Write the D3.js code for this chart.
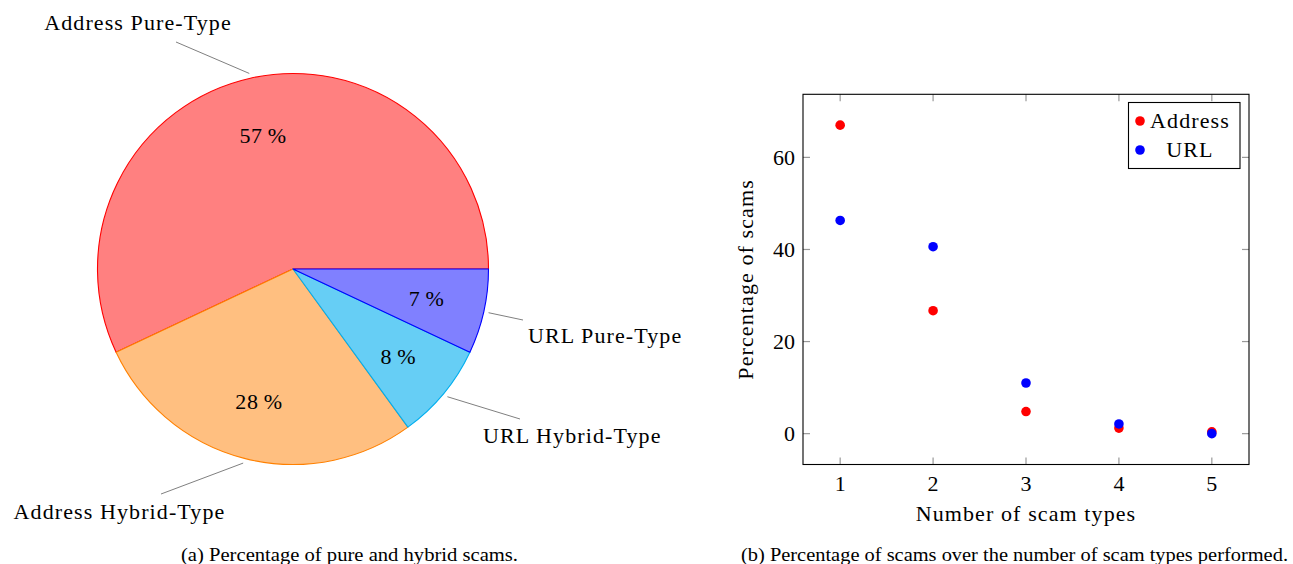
<!DOCTYPE html>
<html>
<head>
<meta charset="utf-8">
<script src="https://cdn.jsdelivr.net/npm/d3@7"></script>
<style>
  html, body { margin: 0; padding: 0; background: #fff; }
  svg { display: block; }
</style>
</head>
<body>
<svg id="chart" width="1293" height="564"></svg>
<script>
// ---------- data ----------
const pieLabels = ["Address Pure-Type", "Address Hybrid-Type", "URL Hybrid-Type", "URL Pure-Type"];
const pieValues = [57, 28, 8, 7];
const pieFills = ["#FF8080", "#FFBF80", "#66CEF5", "#8080FF"];
const pieStrokes = ["#FF0000", "#FF8000", "#00AEEF", "#0000FF"];

const scamTypes = [1, 2, 3, 4, 5];
const addressPct = [67.0, 26.7, 4.8, 1.2, 0.4];
const urlPct = [46.3, 40.6, 11.0, 2.1, 0.0];
const xTickValues = [1, 2, 3, 4, 5];
const yTickValues = [0, 20, 40, 60];
const seriesNames = ["Address", "URL"];
const seriesColors = ["#FF0000", "#0000FF"];

const captionA = "(a) Percentage of pure and hybrid scams.";
const captionB = "(b) Percentage of scams over the number of scam types performed.";

// ---------- layout ----------
const svg = d3.select("#chart");
const SERIF = "'Liberation Serif', serif";
const BASE_FS = 20;   // rendered size
const SCALE = 1.1;    // visual size = 22px
const LS = 1.0;       // letter spacing (unscaled)

function serifGroups(parent, data, cls, posFn, textFn, opts = {}) {
  const g = parent.selectAll("g." + cls)
    .data(data)
    .join("g")
    .attr("class", cls)
    .attr("transform", (d, i) => {
      const p = posFn(d, i);
      return `translate(${p[0]},${p[1]})` + (opts.rotate ? ` rotate(${opts.rotate})` : "") + ` scale(${SCALE})`;
    });
  g.append("text")
    .attr("font-family", SERIF)
    .attr("font-size", BASE_FS)
    .attr("fill", "#000")
    .attr("text-anchor", (d, i) => typeof opts.anchor === "function" ? opts.anchor(d, i) : (opts.anchor || "middle"))
    .attr("dy", opts.dy || 0)
    .attr("letter-spacing", opts.ls || 0)
    .text(textFn);
  return g;
}

// ===== Pie =====
const cx = 293, cy = 269, R = 195.5;
const pie = d3.pie().sort(null)
  .startAngle(Math.PI / 2)
  .endAngle(Math.PI / 2 - 2 * Math.PI);
const arcs = pie(pieValues);
const arc = d3.arc().innerRadius(0).outerRadius(R);

const gPie = svg.append("g").attr("transform", `translate(${cx},${cy})`);
gPie.selectAll("path.slice")
  .data(arcs)
  .join("path")
  .attr("class", "slice")
  .attr("d", arc)
  .attr("fill", (d, i) => pieFills[i])
  .attr("stroke", (d, i) => pieStrokes[i])
  .attr("stroke-width", 1.1)
  .attr("stroke-linejoin", "round");

const polar = (a, r) => [r * Math.sin(a), -r * Math.cos(a)];
const mid = d => (d.startAngle + d.endAngle) / 2;

// inner percentage labels
serifGroups(gPie, arcs, "pct", d => polar(mid(d), 0.7 * R), d => d.data + "\u2009%",
  { anchor: "middle", dy: "0.34em", ls: 0.6 });

// outer labels with pins (pin end and label anchor relative to pie centre)
const pinLayout = [
  { end: [-117, -227], tx: -155, ty: -239, anchor: "middle" },
  { end: [-132, 225], tx: -173.5, ty: 250, anchor: "middle" },
  { end: [227, 150], tx: 190, ty: 174, anchor: "start" },
  { end: [230, 51], tx: 235, ty: 74, anchor: "start" }
];
gPie.selectAll("line.pin")
  .data(arcs)
  .join("line")
  .attr("class", "pin")
  .attr("x1", d => polar(mid(d), 1.025 * R)[0])
  .attr("y1", d => polar(mid(d), 1.025 * R)[1])
  .attr("x2", (d, i) => pinLayout[i].end[0])
  .attr("y2", (d, i) => pinLayout[i].end[1])
  .attr("stroke", "#808080")
  .attr("stroke-width", 1);
serifGroups(gPie, arcs, "plab", (d, i) => [pinLayout[i].tx, pinLayout[i].ty], (d, i) => pieLabels[i],
  { anchor: (d, i) => pinLayout[i].anchor, ls: LS });

// ===== Scatter =====
const x = d3.scaleLinear().domain([0.6, 5.4]).range([803, 1249]);
const y = d3.scaleLinear().domain([-6.7, 73.7]).range([464.5, 94.3]);
const gS = svg.append("g");
const tickLen = 7, tickColor = "#999";

// ticks (inside, mirrored)
gS.selectAll("line.xt")
  .data(xTickValues.flatMap(v => [[v, 0], [v, 1]]))
  .join("line")
  .attr("x1", d => x(d[0])).attr("x2", d => x(d[0]))
  .attr("y1", d => d[1] ? y.range()[1] : y.range()[0])
  .attr("y2", d => d[1] ? y.range()[1] + tickLen : y.range()[0] - tickLen)
  .attr("stroke", tickColor).attr("stroke-width", 1.2);
gS.selectAll("line.yt")
  .data(yTickValues.flatMap(v => [[v, 0], [v, 1]]))
  .join("line")
  .attr("y1", d => y(d[0])).attr("y2", d => y(d[0]))
  .attr("x1", d => d[1] ? x.range()[1] : x.range()[0])
  .attr("x2", d => d[1] ? x.range()[1] - tickLen : x.range()[0] + tickLen)
  .attr("stroke", tickColor).attr("stroke-width", 1.2);

// frame
gS.append("rect")
  .attr("x", x.range()[0]).attr("y", y.range()[1])
  .attr("width", x.range()[1] - x.range()[0])
  .attr("height", y.range()[0] - y.range()[1])
  .attr("fill", "none").attr("stroke", "#000").attr("stroke-width", 1.1);

// tick labels
serifGroups(gS, xTickValues, "xl", d => [x(d), 491], d => d, { anchor: "middle" });
serifGroups(gS, yTickValues, "yl", d => [795, y(d)], d => d, { anchor: "end", dy: "0.34em" });

// axis titles
serifGroups(gS, ["Number of scam types"], "xtitle",
  () => [(x.range()[0] + x.range()[1]) / 2, 521], d => d, { anchor: "middle", ls: LS });
serifGroups(gS, ["Percentage of scams"], "ytitle",
  () => [753, (y.range()[0] + y.range()[1]) / 2], d => d, { anchor: "middle", ls: LS, rotate: -90 });

// points
[addressPct, urlPct].forEach((vals, si) => {
  gS.selectAll(`circle.s${si}`)
    .data(scamTypes.map((t, i) => [t, vals[i]]))
    .join("circle")
    .attr("class", `s${si}`)
    .attr("cx", d => x(d[0])).attr("cy", d => y(d[1]))
    .attr("r", 4.8)
    .attr("fill", seriesColors[si]);
});

// legend
const lg = gS.append("g");
lg.append("rect")
  .attr("x", 1128.5).attr("y", 102.5).attr("width", 111.5).attr("height", 66)
  .attr("fill", "#fff").attr("stroke", "#000").attr("stroke-width", 1.1);
lg.selectAll("circle")
  .data(seriesNames)
  .join("circle")
  .attr("cx", 1140).attr("cy", (d, i) => 121 + i * 29).attr("r", 4.8)
  .attr("fill", (d, i) => seriesColors[i]);
serifGroups(lg, seriesNames, "lgtext", (d, i) => [1190, 121 + i * 29], d => d,
  { anchor: "middle", dy: "0.33em", ls: LS });

// ===== captions =====
svg.append("text")
  .attr("x", 181).attr("y", 561)
  .attr("font-family", SERIF).attr("font-size", 19)
  .attr("textLength", 337).attr("lengthAdjust", "spacingAndGlyphs")
  .text(captionA);
svg.append("text")
  .attr("x", 741).attr("y", 561)
  .attr("font-family", SERIF).attr("font-size", 19)
  .attr("textLength", 547).attr("lengthAdjust", "spacingAndGlyphs")
  .text(captionB);
</script>
</body>
</html>
